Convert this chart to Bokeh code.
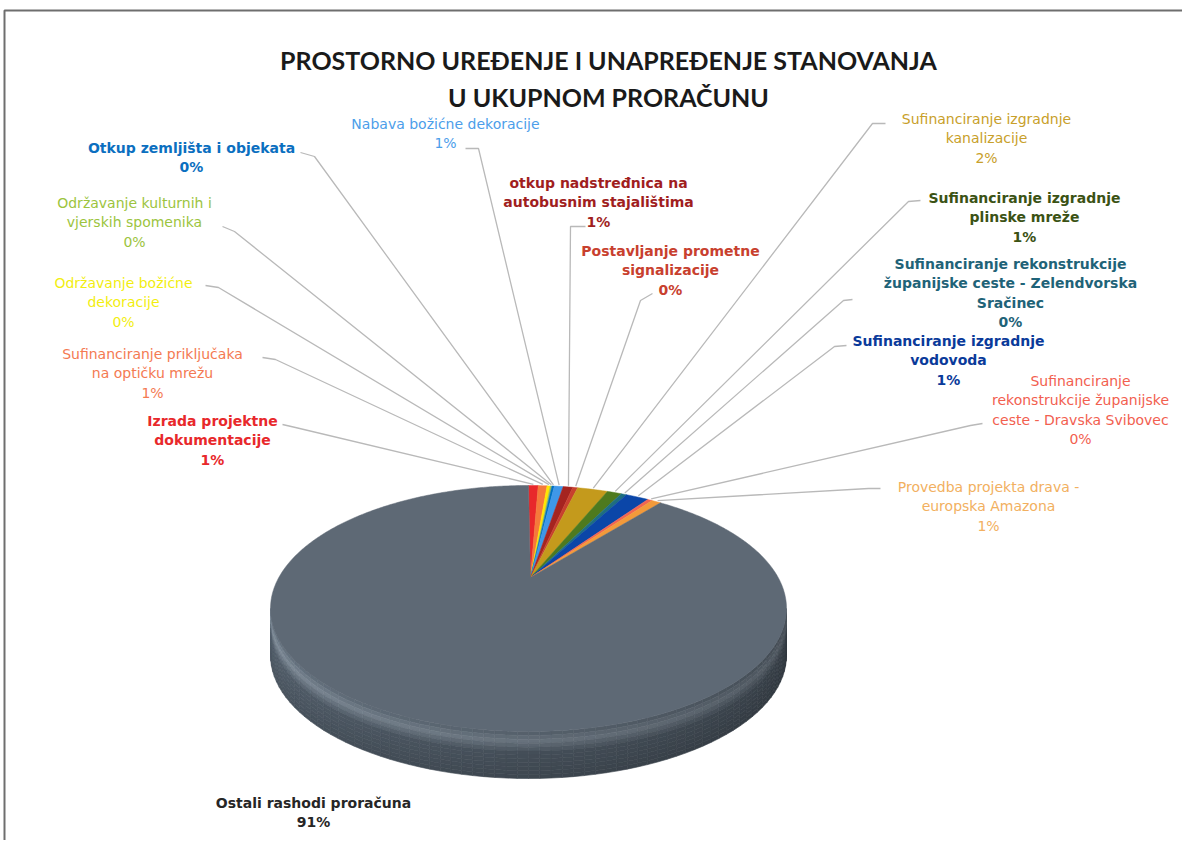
import numpy as np
from bokeh.plotting import figure
from bokeh.models import Range1d, ColumnDataSource
from bokeh.core.properties import value
from bokeh.embed import file_html
from bokeh.resources import INLINE

# ---------------- data ----------------
title_lines = ["PROSTORNO UREĐENJE I UNAPREĐENJE STANOVANJA", "U UKUPNOM PRORAČUNU"]

categories = [
    "Izrada projektne dokumentacije",
    "Sufinanciranje priključaka na optičku mrežu",
    "Održavanje božićne dekoracije",
    "Održavanje kulturnih i vjerskih spomenika",
    "Otkup zemljišta i objekata",
    "Nabava božićne dekoracije",
    "otkup nadstređnica na autobusnim stajalištima",
    "Postavljanje prometne signalizacije",
    "Sufinanciranje izgradnje kanalizacije",
    "Sufinanciranje izgradnje plinske mreže",
    "Sufinanciranje rekonstrukcije županijske ceste - Zelendvorska Sračinec",
    "Sufinanciranje izgradnje vodovoda",
    "Sufinanciranje rekonstrukcije županijske ceste - Dravska Svibovec",
    "Provedba projekta drava - europska Amazona",
    "Ostali rashodi proračuna",
]
shares = [0.6, 0.55, 0.2, 0.1, 0.15, 0.55, 0.6, 0.3, 1.9, 0.9, 0.35, 1.45, 0.3, 0.6, 91.45]

label_lines = [
    ["Izrada projektne", "dokumentacije"],
    ["Sufinanciranje priključaka", "na optičku mrežu"],
    ["Održavanje božićne", "dekoracije"],
    ["Održavanje kulturnih i", "vjerskih spomenika"],
    ["Otkup zemljišta i objekata"],
    ["Nabava božićne dekoracije"],
    ["otkup nadstređnica na", "autobusnim stajalištima"],
    ["Postavljanje prometne", "signalizacije"],
    ["Sufinanciranje izgradnje", "kanalizacije"],
    ["Sufinanciranje izgradnje", "plinske mreže"],
    ["Sufinanciranje rekonstrukcije", "županijske ceste - Zelendvorska", "Sračinec"],
    ["Sufinanciranje izgradnje", "vodovoda"],
    ["Sufinanciranje", "rekonstrukcije županijske", "ceste - Dravska Svibovec"],
    ["Provedba projekta drava -", "europska Amazona"],
    ["Ostali rashodi proračuna"],
]

# ---------------- styles / layout ----------------
slice_colors = ["#E8282B", "#F5793A", "#FFE600", "#9BBB59", "#0070C0", "#3F97E8",
                "#A52420", "#C8402E", "#C49A1C", "#4E7A1E", "#1E6E80", "#0B46A8",
                "#F26552", "#F39A3A", "#5E6975"]
label_colors = ["#E8282B", "#F47A52", "#F2EE10", "#9CC43E", "#0B6FC0", "#4C9EEA",
                "#A01E1E", "#C8402E", "#C8A02A", "#3B5214", "#1F6378", "#0A3A9A",
                "#F2604F", "#F2B060", "#262626"]
label_bold = [True, False, False, False, True, False, True, True, False, True, True, True,
              False, False, True]
# (center x, y of first line) in page pixels
label_pos = [(212, 420), (152, 353), (123, 282), (134, 202), (191, 147), (445, 123),
             (598, 182), (670, 250), (986, 118), (1024, 197), (1010, 263), (948, 340),
             (1080, 380), (988, 486), (313, 802)]
# leader line start + elbow (page pixels)
leader_start = [((282, 424), (295, 427)), ((262, 357), (275, 359)), ((205, 285), (218, 287)),
                ((222, 226), (234, 231)), ((300, 152), (314, 156)), ((465, 148), (478, 148)),
                ((585, 226), (570, 226)), ((652, 293), (640, 300)), ((885, 123), (872, 123)),
                ((920, 200), (908, 201)), ((852, 299), (843, 300)), ((846, 345), (834, 346)),
                ((982, 423), (970, 425)), ((880, 488), (868, 488)), None]
line_gap = 19.5

# pie geometry (page pixels)
CX, CY, A, B, DEPTH = 528.0, 608.0, 258.0, 123.0, 47.0
APEX = (530.0, 577.0)

W, H = 1182, 840
p = figure(width=W, height=H, output_backend="svg", toolbar_location=None,
           x_range=Range1d(0, W), y_range=Range1d(-H, 0),
           min_border=0, outline_line_color=None, background_fill_color="white")
p.axis.visible = False
p.xgrid.visible = False
p.ygrid.visible = False


def ell(theta_deg, dy=0.0, scale=1.0):
    t = np.radians(theta_deg)
    return CX + A * scale * np.sin(t), -(CY - B * scale * np.cos(t) + dy)


# ---- side of the cylinder (shaded quads) ----
xs, ys, cols = [], [], []
nth, nv = 72, 12
ths = np.linspace(90, 270, nth + 1)
fs = np.linspace(0, 1, nv + 1)
for i in range(nth):
    for j in range(nv):
        t0, t1 = ths[i], ths[i + 1]
        f0, f1 = fs[j], fs[j + 1]
        x00, y00 = ell(t0, DEPTH * f0)
        x10, y10 = ell(t1, DEPTH * f0)
        x11, y11 = ell(t1, DEPTH * f1)
        x01, y01 = ell(t0, DEPTH * f1)
        xs.append([x00, x10, x11, x01])
        ys.append([y00, y10, y11, y01])
        tm = ((t0 + t1) / 2 - 90) / 180.0  # 0 right -> 1 left
        fm = (f0 + f1) / 2
        lat = 0.70 + 0.42 * tm
        base = np.array([82, 94, 106]) * lat
        hl = max(0.0, 1 - abs(fm - 0.2) / 0.25) * (42 - 20 * (1 - tm))
        dark = 1 - 0.18 * fm
        c = np.clip(base * dark + hl, 0, 255).astype(int)
        cols.append("#%02x%02x%02x" % tuple(c))
p.patches(xs, ys, fill_color=cols, line_color=cols, line_width=0.6)

# ---- top surface slices ----
total = float(sum(shares))
starts = np.cumsum([0] + shares[:-1]) / total * 360.0
ends = np.cumsum(shares) / total * 360.0
sx, sy = [], []
for s, e in zip(starts, ends):
    n = max(3, int((e - s) / 0.5))
    th = np.linspace(s, e, n)
    ax, ay = ell(th)
    sx.append([APEX[0]] + list(ax))
    sy.append([-APEX[1]] + list(ay))
p.patches(sx, sy, fill_color=slice_colors, line_color=slice_colors, line_width=0.5)

# ---- leader lines ----
lx, ly = [], []
for i, st in enumerate(leader_start):
    if st is None:
        continue
    mid = (starts[i] + ends[i]) / 2
    axp, ayp = ell(mid, 0, 1.01)
    lx.append([st[0][0], st[1][0], float(axp)])
    ly.append([-st[0][1], -st[1][1], float(ayp)])
p.multi_line(lx, ly, line_color="#B9B9B9", line_width=1.3)

# ---- labels ----
groups = {True: dict(x=[], y=[], t=[], c=[]), False: dict(x=[], y=[], t=[], c=[])}
for i, lines in enumerate(label_lines):
    pct = "%d%%" % int(shares[i] / total * 100 + 0.5)
    cx, y0 = label_pos[i]
    for k, ln in enumerate(lines + [pct]):
        g = groups[label_bold[i]]
        g["x"].append(cx)
        g["y"].append(-(y0 + k * line_gap))
        g["t"].append(ln)
        g["c"].append(label_colors[i])
for bold, g in groups.items():
    src = ColumnDataSource(dict(x=g["x"], y=g["y"], text=g["t"], color=g["c"]))
    p.text(x="x", y="y", text="text", source=src, text_color="color",
           text_font=value("DejaVu Sans"), text_font_size="14px",
           text_font_style="bold" if bold else "normal",
           text_align="center", text_baseline="middle")

# ---- title ----
p.text(x=[608, 608], y=[-59, -96], text=title_lines, text_font=value("Lato"),
       text_font_size="25px", text_font_style="bold", text_color="#1A1A1A",
       text_align="center", text_baseline="alphabetic")

# ---- frame ----
p.line(x=[4, 4, W], y=[-H, -10, -10], line_color="#6E6E6E", line_width=2)

open("out.html", "w").write(file_html(p, INLINE))
